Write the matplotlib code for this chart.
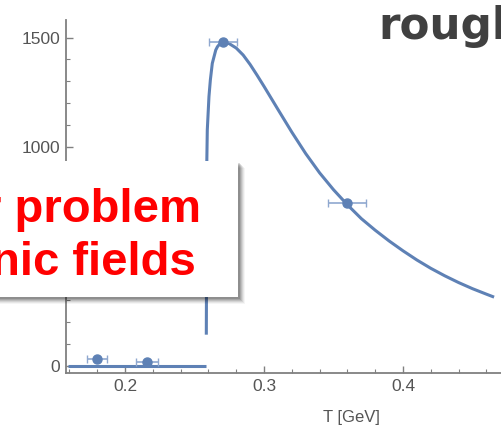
import matplotlib
matplotlib.use("Agg")
import matplotlib.pyplot as plt
from matplotlib.patches import Rectangle
from matplotlib.ticker import MultipleLocator

plt.rcParams['font.family'] = ['Liberation Sans', 'DejaVu Sans']

# curve (T in GeV, value)
curve_T = [0.2585, 0.2587, 0.2588, 0.2592, 0.2604, 0.2614, 0.2628, 0.2653, 0.2665,
           0.2678, 0.2690, 0.2707, 0.275, 0.280, 0.285, 0.290, 0.295, 0.300,
           0.310, 0.320, 0.330, 0.340, 0.350, 0.360, 0.370, 0.380, 0.390,
           0.400, 0.410, 0.420, 0.430, 0.440, 0.450, 0.460, 0.4645]
curve_v = [150, 500, 910, 1078, 1230, 1306, 1382, 1443, 1458,
           1468, 1474, 1478, 1472, 1452, 1420, 1377, 1328, 1277,
           1172, 1068, 970, 882, 805, 736, 673, 620, 571,
           526, 484, 446, 412, 381, 353, 328, 317]

# flat part below the transition
flat_T = [0.159, 0.2585]
flat_v = [0, 0]

# lattice points with horizontal error bars
pts_T = [0.180, 0.216, 0.2705, 0.3597]
pts_v = [32, 20, 1478, 743]
pts_dT = [0.0072, 0.008, 0.0104, 0.0137]

blue = '#5E81B5'
grey = '#808080'

fig = plt.figure(figsize=(5.01, 4.34), dpi=100)
ax = fig.add_axes([66/501, 61/434, 1 - 66/501, 353/434])

ax.plot(flat_T, flat_v, color=blue, lw=2.2, solid_capstyle='butt')
ax.plot(curve_T, curve_v, color=blue, lw=2.2)
ax.errorbar(pts_T, pts_v, xerr=pts_dT, fmt='o', color=blue, ms=6.5,
            ecolor='#8fa8cf', elinewidth=1.2, capsize=3, capthick=1.0)

ax.set_xlim(0.15755, 0.4705)
ax.set_ylim(-32, 1580)
ax.xaxis.set_minor_locator(MultipleLocator(0.02))
ax.yaxis.set_minor_locator(MultipleLocator(100))
ax.set_xticks([0.2, 0.3, 0.4])
ax.set_xticklabels(['0.2', '0.3', '0.4'])
# the 500 label sits under the note box
ax.set_yticks([0, 500, 1000, 1500])
ax.set_yticklabels(['0', '', '1000', '1500'])

for s in ['top', 'right']:
    ax.spines[s].set_visible(False)
for s in ['left', 'bottom']:
    ax.spines[s].set_color(grey)
    ax.spines[s].set_linewidth(1.3)
ax.tick_params(which='both', direction='in', color=grey, labelcolor='#555555',
               labelsize=12.5)
ax.tick_params(which='major', length=5, width=1.0, pad=4)
ax.tick_params(which='minor', length=3, width=0.8)
ax.set_xlabel('T [GeV]', fontsize=12, color='#555555')
ax.xaxis.set_label_coords((351 - 66) / 435, -0.105)

# slide overlay (cut off by the screenshot edges): title and the boxed red note
fig.text(378/501, 1 - 39/434, 'rougly', fontsize=31.5, fontweight='bold',
         family='DejaVu Sans', color='#404040', ha='left', va='baseline')

box_x0, box_y0, box_x1, box_y1 = -10, 161, 238, 297
for k, a in [(7, 0.04), (6, 0.06), (5, 0.08), (4, 0.10), (3, 0.12), (2, 0.14)]:
    fig.patches.append(Rectangle((box_x0 / 501, 1 - (box_y1 + k) / 434),
                                 (box_x1 - box_x0 + k) / 501,
                                 (box_y1 - box_y0) / 434,
                                 transform=fig.transFigure, facecolor='black',
                                 edgecolor='none', alpha=a, zorder=5))
fig.patches.append(Rectangle((box_x0 / 501, 1 - box_y1 / 434),
                             (box_x1 - box_x0) / 501, (box_y1 - box_y0) / 434,
                             transform=fig.transFigure, facecolor='white',
                             edgecolor='none', zorder=6))
fig.text(201/501, 1 - 222/434, 'r problem', fontsize=34, fontweight='bold',
         color='#ff0000', ha='right', va='baseline', zorder=7)
fig.text(196/501, 1 - 275/434, 'nic fields', fontsize=34, fontweight='bold',
         color='#ff0000', ha='right', va='baseline', zorder=7)

fig.savefig('out.png', dpi=100)
